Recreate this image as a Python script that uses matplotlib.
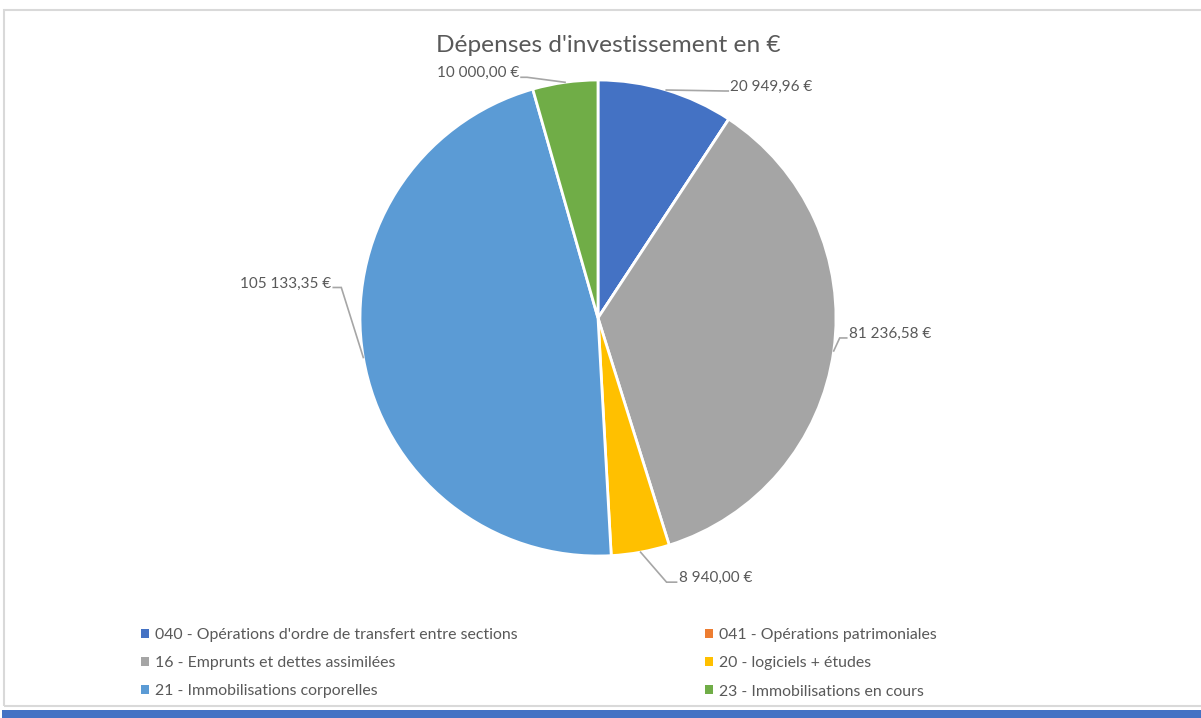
import numpy as np
import matplotlib
matplotlib.use("Agg")
from matplotlib import pyplot as plt
from matplotlib.patches import Rectangle

# data
categories = ["040 - Opérations d'ordre de transfert entre sections",
              "041 - Opérations patrimoniales",
              "16 - Emprunts et dettes assimilées",
              "20 - logiciels + études",
              "21 - Immobilisations corporelles",
              "23 - Immobilisations en cours"]
amounts = [20949.96, 0.0, 81236.58, 8940.00, 105133.35, 10000.00]
colors = ['#4472C4', '#ED7D31', '#A5A5A5', '#FFC000', '#5B9BD5', '#70AD47']

W, H = 1201, 718
plt.rcParams['font.family'] = ['Lato', 'DejaVu Sans']
GREY_TXT = '#595959'


def fmt_eur(v):
    # french style: space for thousands, comma for decimals
    return "{:,.2f}".format(v).replace(",", " ").replace(".", ",") + " €"


def py(y):
    # pixel row (from top) -> data y (from bottom)
    return H - y


fig = plt.figure(figsize=(W / 100, H / 100), dpi=100)
ax = fig.add_axes([0, 0, 1, 1])
ax.set_xlim(0, W)
ax.set_ylim(0, H)
ax.axis('off')

# frame + bottom bar like the excel screenshot
ax.add_patch(Rectangle((3.5, py(705.5)), W + 20, 696, fill=False,
                       edgecolor='#D9D9D9', lw=1.5, clip_on=False))
ax.add_patch(Rectangle((2, 0), W, H - 709.5, facecolor='#4472C4',
                       edgecolor='none'))

cx, cy, r = 598, py(318), 238
wedges, _ = ax.pie(amounts, colors=colors, startangle=90, counterclock=False,
                   center=(cx, cy), radius=r, normalize=True,
                   wedgeprops=dict(edgecolor='white', linewidth=2))
ax.set_xlim(0, W)
ax.set_ylim(0, H)
ax.set_aspect('auto')

ax.text(608, py(45), "Dépenses d'investissement en €", ha='center', va='center',
        fontsize=17.6, color=GREY_TXT)

# leader lines: (elbow dx, elbow dy, horizontal run) in pixels
leaders = {0: (58, 1, 4, 'left'),
           2: (6, -13, 7, 'left'),
           3: (26, 30, 10, 'left'),
           4: (-22, -70, -8, 'right'),
           5: (-38, -5, -6, 'right')}

for i, w in enumerate(wedges):
    if amounts[i] == 0:
        continue
    ang = np.deg2rad((w.theta1 + w.theta2) / 2)
    ex = cx + r * np.cos(ang)
    ey = cy + r * np.sin(ang)
    ddx, ddy, run, ha = leaders[i]
    bx, by = ex + ddx, ey - ddy
    tx = bx + run
    ax.plot([ex, bx, tx], [ey, by, by], color='#A6A6A6', lw=1.2,
            solid_joinstyle='miter')
    pad = 2 if ha == 'left' else -2
    ax.text(tx + pad, by + 4, fmt_eur(amounts[i]), ha=ha, va='center',
            fontsize=11, color=GREY_TXT)

# legend, row-major in two columns
leg_kw = dict(frameon=False, fontsize=11.4, labelcolor=GREY_TXT,
              handlelength=0.5, handleheight=0.5, handletextpad=0.4,
              labelspacing=0.9, borderpad=0, borderaxespad=0)
left_idx = [0, 2, 4]
right_idx = [1, 3, 5]
fig.legend([wedges[i] for i in left_idx], [categories[i] for i in left_idx],
           loc='upper left', bbox_to_anchor=(141 / W, 1 - 628 / H), **leg_kw)
fig.legend([wedges[i] for i in right_idx], [categories[i] for i in right_idx],
           loc='upper left', bbox_to_anchor=(705 / W, 1 - 628 / H), **leg_kw)

# hide the wedge edges in the legend squares
for leg in fig.legends:
    for h in leg.legend_handles:
        h.set_edgecolor('none')

plt.savefig("out.png", dpi=100, facecolor='white')
plt.close(fig)
